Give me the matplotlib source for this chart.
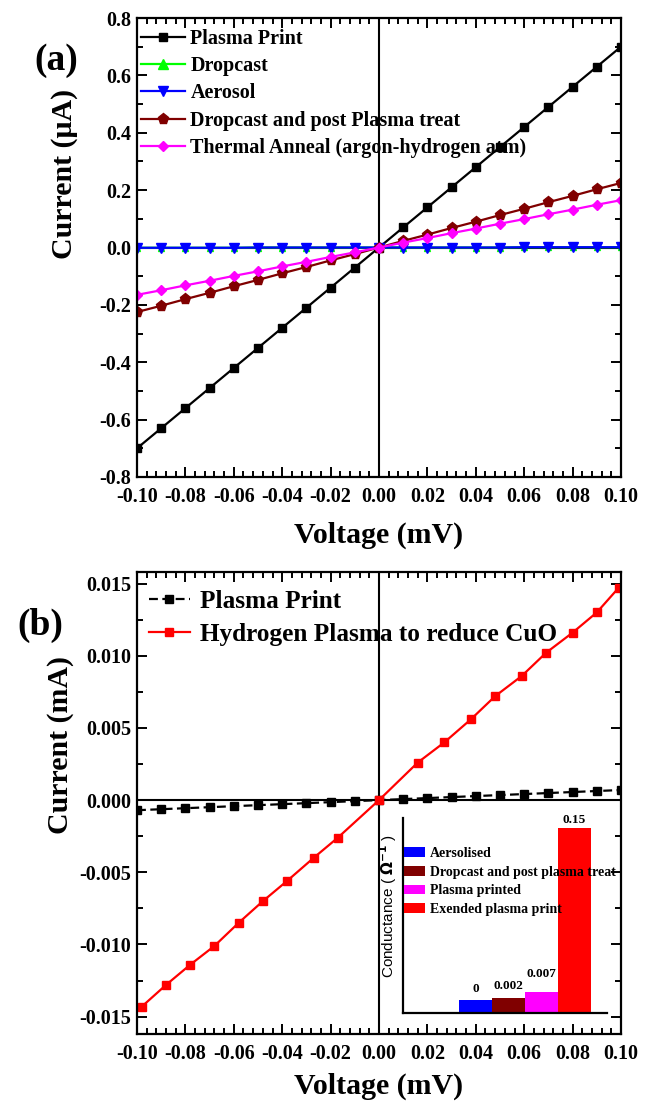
import matplotlib
matplotlib.use("Agg")
import matplotlib.pyplot as plt
from matplotlib.ticker import MultipleLocator, AutoMinorLocator, FuncFormatter

plt.rcParams['font.family'] = ['Liberation Serif', 'DejaVu Serif']
plt.rcParams['font.weight'] = 'bold'
plt.rcParams['mathtext.fontset'] = 'dejavusans'

# ---------------- Panel (a) data ----------------
voltage_a = [-0.10, -0.09, -0.08, -0.07, -0.06, -0.05, -0.04, -0.03, -0.02, -0.01, 0.00,
             0.01, 0.02, 0.03, 0.04, 0.05, 0.06, 0.07, 0.08, 0.09, 0.10]
plasma_print_a = [-0.70, -0.63, -0.56, -0.49, -0.42, -0.35, -0.28, -0.21, -0.14, -0.07, 0.00,
                  0.07, 0.14, 0.21, 0.28, 0.35, 0.42, 0.49, 0.56, 0.63, 0.70]
dropcast_a = [-0.001, -0.001, -0.001, -0.001, -0.001, 0.000, 0.000, 0.000, 0.000, 0.000, 0.000,
              0.000, 0.000, 0.000, 0.000, 0.000, 0.001, 0.001, 0.001, 0.001, 0.001]
aerosol_a = [-0.001, -0.001, -0.001, -0.001, -0.001, 0.000, 0.000, 0.000, 0.000, 0.000, 0.000,
             0.000, 0.000, 0.000, 0.000, 0.000, 0.001, 0.001, 0.001, 0.001, 0.001]
dropcast_plasma_a = [-0.225, -0.203, -0.180, -0.158, -0.135, -0.113, -0.090, -0.068, -0.045, -0.023, 0.000,
                     0.023, 0.045, 0.068, 0.090, 0.113, 0.135, 0.158, 0.180, 0.203, 0.225]
thermal_a = [-0.165, -0.149, -0.132, -0.116, -0.099, -0.083, -0.066, -0.050, -0.033, -0.017, 0.000,
             0.017, 0.033, 0.050, 0.066, 0.083, 0.099, 0.116, 0.132, 0.149, 0.165]

# ---------------- Panel (b) data ----------------
voltage_b_pp = voltage_a
plasma_print_b = [-0.00070, -0.00063, -0.00056, -0.00049, -0.00042, -0.00035, -0.00028, -0.00021,
                  -0.00014, -0.00007, 0.0, 0.00007, 0.00014, 0.00021, 0.00028, 0.00035, 0.00042,
                  0.00049, 0.00056, 0.00063, 0.00070]
voltage_b_h = [-0.098, -0.088, -0.078, -0.068, -0.058, -0.048, -0.038, -0.027, -0.017, 0.000,
               0.016, 0.027, 0.038, 0.048, 0.059, 0.069, 0.080, 0.090, 0.099]
hydrogen_b = [-0.0143, -0.0128, -0.0114, -0.0101, -0.0085, -0.0070, -0.0056, -0.0040, -0.0026, 0.0,
              0.0026, 0.0040, 0.0056, 0.0072, 0.0086, 0.0102, 0.0116, 0.0130, 0.0147]

# ---------------- Inset data ----------------
inset_labels = ['Aersolised', 'Dropcast and post plasma treat', 'Plasma printed', 'Exended plasma print']
inset_values = [0.0, 0.002, 0.007, 0.15]
inset_texts = ['0', '0.002', '0.007', '0.15']
inset_colors = ['#0000FF', '#800000', '#FF00FF', '#FF0000']

W, H = 651, 1103
fig = plt.figure(figsize=(W / 100, H / 100), dpi=100)


def frac(l, t, r, b):
    return [l / W, 1 - b / H, (r - l) / W, (b - t) / H]


def fmt(decimals):
    def f(v, pos):
        s = f"{v:.{decimals}f}"
        if s.startswith('-') and float(s) == 0:
            s = s[1:]
        return s
    return FuncFormatter(f)


TICK_FS = 14.5
LABEL_FS = 21.5


def style_axes(ax):
    for s in ax.spines.values():
        s.set_linewidth(1.6)
    ax.tick_params(which='both', direction='in', top=True, right=True, width=1.4,
                   labelsize=TICK_FS)
    ax.tick_params(axis='x', pad=7.5)
    ax.tick_params(axis='y', pad=4)
    ax.tick_params(which='major', length=7)
    ax.tick_params(which='minor', length=4)
    for lab in ax.get_xticklabels() + ax.get_yticklabels():
        lab.set_fontweight('bold')


# ---------------- Axes (a) ----------------
axa = fig.add_axes(frac(137, 18, 621, 477))
axa.axvline(0, color='black', lw=1.5, zorder=1)
axa.axhline(0, color='black', lw=1.5, zorder=1)
axa.plot(voltage_a, plasma_print_a, color='black', lw=1.6, marker='s', ms=6, label='Plasma Print')
axa.plot(voltage_a, dropcast_a, color='#00FF00', lw=1.6, marker='^', ms=5, label='Dropcast')
axa.plot(voltage_a, aerosol_a, color='#0000FF', lw=1.6, marker='v', ms=7, label='Aerosol')
axa.plot(voltage_a, dropcast_plasma_a, color='#800000', lw=1.6, marker='p', ms=8,
         label='Dropcast and post Plasma treat')
axa.plot(voltage_a, thermal_a, color='#FF00FF', lw=1.6, marker='D', ms=5.5,
         label='Thermal Anneal (argon-hydrogen atm)')
axa.set_xlim(-0.1, 0.1)
axa.set_ylim(-0.8, 0.8)
axa.xaxis.set_major_locator(MultipleLocator(0.02))
axa.xaxis.set_minor_locator(AutoMinorLocator(5))
axa.yaxis.set_major_locator(MultipleLocator(0.2))
axa.yaxis.set_minor_locator(AutoMinorLocator(2))
axa.xaxis.set_major_formatter(fmt(2))
axa.yaxis.set_major_formatter(fmt(1))
style_axes(axa)
axa.set_xlabel('Voltage (mV)', fontsize=LABEL_FS, fontweight='bold', labelpad=10.5)
axa.set_ylabel('Current (μA)', fontsize=LABEL_FS, fontweight='bold')
axa.yaxis.set_label_coords(-0.122, 0.66)
leg = axa.legend(loc='upper left', bbox_to_anchor=(0.0, 0.985), frameon=False,
                 prop={'family': 'Liberation Serif', 'weight': 'bold', 'size': 14.5},
                 handlelength=2.2, handletextpad=0.25, labelspacing=0.36,
                 borderpad=0, borderaxespad=0.2)
leg.legend_handles[1].set_markersize(7)
fig.text(56 / W, 1 - 60 / H, '(a)', fontsize=27, fontweight='bold', ha='center', va='center')

# ---------------- Axes (b) ----------------
axb = fig.add_axes(frac(137, 572, 621, 1034))
axb.axvline(0, color='black', lw=1.5, zorder=1)
axb.axhline(0, color='black', lw=1.5, zorder=1)
axb.plot(voltage_b_pp, plasma_print_b, color='black', lw=1.6, ls=(0, (4, 2)), marker='s', ms=6,
         label='Plasma Print')
axb.plot(voltage_b_h, hydrogen_b, color='#FF0000', lw=1.6, marker='s', ms=6,
         label='Hydrogen Plasma to reduce CuO')
axb.set_xlim(-0.1, 0.1)
axb.set_ylim(-0.0162, 0.0158)
axb.xaxis.set_major_locator(MultipleLocator(0.02))
axb.xaxis.set_minor_locator(AutoMinorLocator(5))
axb.yaxis.set_major_locator(MultipleLocator(0.005))
axb.yaxis.set_minor_locator(AutoMinorLocator(2))
axb.xaxis.set_major_formatter(fmt(2))
axb.yaxis.set_major_formatter(fmt(3))
style_axes(axb)
axb.set_xlabel('Voltage (mV)', fontsize=LABEL_FS, fontweight='bold', labelpad=6)
axb.set_ylabel('Current (mA)', fontsize=LABEL_FS, fontweight='bold')
axb.yaxis.set_label_coords(-0.130, 0.625)
legb = axb.legend(loc='upper left', bbox_to_anchor=(0.025, 0.962), frameon=False,
                  prop={'family': 'Liberation Serif', 'weight': 'bold', 'size': 18.2},
                  handlelength=1.6, handletextpad=0.4, labelspacing=0.42,
                  borderpad=0, borderaxespad=0.0)
fig.text(40 / W, 1 - 625 / H, '(b)', fontsize=27, fontweight='bold', ha='center', va='center')

# ---------------- Inset ----------------
axi = fig.add_axes(frac(403, 818, 607, 1013))
axi.patch.set_alpha(0)
base = -0.0113
positions = [1, 2, 3, 4]
bars = axi.bar(positions, [v - base for v in inset_values], bottom=base, width=1.0,
               color=inset_colors, label=inset_labels)
axi.set_xlim(-1.2, 5.0)
axi.set_ylim(base, 0.159)
for s in ['top', 'right']:
    axi.spines[s].set_visible(False)
for s in ['left', 'bottom']:
    axi.spines[s].set_linewidth(1.6)
axi.set_xticks([])
axi.set_yticks([])
offsets = [4, 4, 9, 1.5]
for p, v, t, o in zip(positions, inset_values, inset_texts, offsets):
    axi.annotate(t, (p, v), xytext=(0, o), textcoords='offset points', ha='center', va='bottom',
                 fontsize=9.5, fontweight='bold')
axi.set_ylabel(r'Conductance ( $\Omega^{-1}$ )', fontsize=11, fontweight='normal',
               family=['Liberation Sans', 'DejaVu Sans'])
axi.yaxis.set_label_coords(-0.02, 0.55)
axi.legend(loc='upper left', bbox_to_anchor=(0.0, 0.86), frameon=False,
           prop={'family': 'Liberation Serif', 'weight': 'bold', 'size': 10},
           handlelength=1.5, handleheight=0.7, handletextpad=0.35, labelspacing=0.42,
           borderpad=0, borderaxespad=0.1)

fig.savefig('out.png', dpi=100)
